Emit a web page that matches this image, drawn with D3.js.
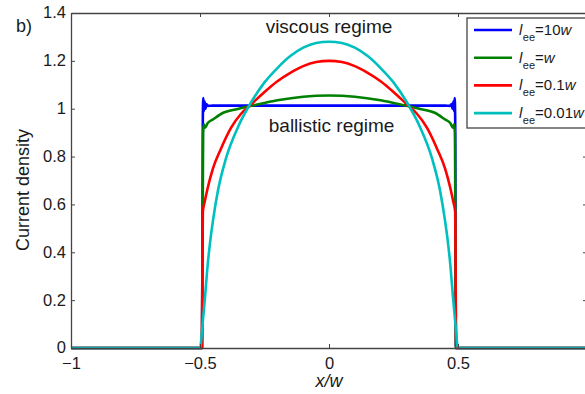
<!DOCTYPE html>
<html>
<head>
<meta charset="utf-8">
<script src="https://cdn.jsdelivr.net/npm/d3@7"></script>
<style>
  html, body { margin: 0; padding: 0; background: #fff; }
  svg { display: block; font-family: "Liberation Sans", Arial, Helvetica, sans-serif; }
</style>
</head>
<body>
<svg id="chart" width="585" height="394"></svg>
<script>
// Current density profiles across the channel for several e-e scattering lengths
const xTicks = [-1, -0.5, 0, 0.5, 1];
const xTickLabels = ["\u22121", "\u22120.5", "0", "0.5", ""];
const yTicks = [0, 0.2, 0.4, 0.6, 0.8, 1, 1.2, 1.4];
const yTickLabels = ["0", "0.2", "0.4", "0.6", "0.8", "1", "1.2", "1.4"];

const seriesNames = ["10", "", "0.1", "0.01"];
const seriesColors = ["#0000ff", "#008000", "#ff0000", "#00bfbf"];

// l_ee = 10w (ballistic, flat with edge ringing)
const x10w = [-1, -0.492, -0.489, -0.487, -0.485, -0.482, -0.479, -0.475, -0.47, -0.45, -0.3, 0, 0.3, 0.45, 0.47, 0.475, 0.479, 0.482, 0.485, 0.487, 0.489, 0.492, 1];
const y10w = [0, 0, 0.97, 1.045, 0.99, 1.03, 1.0, 1.02, 1.012, 1.013, 1.013, 1.013, 1.013, 1.013, 1.012, 1.02, 1.0, 1.03, 0.99, 1.045, 0.97, 0, 0];

// l_ee = w
const xW = [-1, -0.492, -0.488, -0.485, -0.481, -0.47, -0.45, -0.41, -0.35, -0.3, -0.2, -0.1, 0, 0.1, 0.2, 0.3, 0.35, 0.41, 0.45, 0.47, 0.481, 0.485, 0.488, 0.492, 1];
const yW = [0, 0, 0.9, 0.935, 0.92, 0.94, 0.955, 0.983, 1.0, 1.012, 1.035, 1.05, 1.055, 1.05, 1.035, 1.012, 1.0, 0.983, 0.955, 0.94, 0.92, 0.935, 0.9, 0, 0];

// l_ee = 0.1w
const x01w = [-1, -0.493, -0.489, -0.482, -0.47, -0.45, -0.42, -0.38, -0.34, -0.3, -0.25, -0.2, -0.15, -0.1, -0.05, 0, 0.05, 0.1, 0.15, 0.2, 0.25, 0.3, 0.34, 0.38, 0.42, 0.45, 0.47, 0.482, 0.489, 0.493, 1];
const y01w = [0, 0, 0.57, 0.61, 0.67, 0.75, 0.83, 0.92, 0.98, 1.02, 1.07, 1.115, 1.15, 1.178, 1.195, 1.2, 1.195, 1.178, 1.15, 1.115, 1.07, 1.02, 0.98, 0.92, 0.83, 0.75, 0.67, 0.61, 0.57, 0, 0];

// l_ee = 0.01w (viscous, Poiseuille-like)
const x001w = [-1, -0.5, -0.49, -0.48, -0.47, -0.46, -0.45, -0.43, -0.4, -0.35, -0.3, -0.25, -0.2, -0.15, -0.1, -0.05, 0, 0.05, 0.1, 0.15, 0.2, 0.25, 0.3, 0.35, 0.4, 0.43, 0.45, 0.46, 0.47, 0.48, 0.49, 0.5, 1];
const y001w = [0, 0, 0.1, 0.22, 0.35, 0.45, 0.53, 0.66, 0.79, 0.93, 1.03, 1.11, 1.17, 1.22, 1.255, 1.275, 1.28, 1.275, 1.255, 1.22, 1.17, 1.11, 1.03, 0.93, 0.79, 0.66, 0.53, 0.45, 0.35, 0.22, 0.1, 0, 0];

const seriesX = [x10w, xW, x01w, x001w];
const seriesY = [y10w, yW, y01w, y001w];

const margin = { left: 71, top: 13, right: 587, bottom: 348 };
const svg = d3.select("#chart");

const x = d3.scaleLinear().domain([-1, 1]).range([margin.left, margin.right]);
const y = d3.scaleLinear().domain([0, 1.4]).range([margin.bottom, margin.top]);

const axisColor = "#444";
const textColor = "#1a1a1a";
const tickLen = 4;

// curves
const line = d3.line().x(d => x(d[0])).y(d => y(d[1])).curve(d3.curveMonotoneX);
const curves = svg.append("g");
seriesX.forEach((xs, i) => {
  const pts = xs.map((v, j) => [v, seriesY[i][j]]);
  curves.append("path")
    .datum(pts)
    .attr("d", line)
    .attr("fill", "none")
    .attr("stroke", seriesColors[i])
    .attr("stroke-width", 2.6)
    .attr("stroke-linejoin", "round");
});

// axes (inward ticks, boxed)
const fontSize = 16.5;
const bottomAxis = d3.axisBottom(x).tickValues(xTicks).tickSizeInner(-tickLen).tickSizeOuter(0)
  .tickFormat((d, i) => xTickLabels[i]);
const leftAxis = d3.axisLeft(y).tickValues(yTicks).tickSizeInner(-tickLen).tickSizeOuter(0)
  .tickFormat((d, i) => yTickLabels[i]);
const topAxis = d3.axisTop(x).tickValues(xTicks).tickSizeInner(-tickLen).tickSizeOuter(0).tickFormat("");
const rightAxis = d3.axisRight(y).tickValues(yTicks).tickSizeInner(-tickLen).tickSizeOuter(0).tickFormat("");

function styleAxis(g) {
  g.select(".domain").attr("stroke", axisColor).attr("stroke-width", 1.3);
  g.selectAll(".tick line").attr("stroke", axisColor).attr("stroke-width", 1);
  g.selectAll(".tick text").attr("fill", textColor).attr("font-size", fontSize)
    .attr("font-family", "Liberation Sans, Arial, sans-serif");
}

svg.append("g").attr("transform", `translate(0,${margin.bottom})`).call(bottomAxis).call(styleAxis)
  .selectAll(".tick text").attr("dy", 0).attr("y", 21);
svg.append("g").attr("transform", `translate(${margin.left},0)`).call(leftAxis).call(styleAxis)
  .selectAll(".tick text").attr("x", -5).attr("dy", "0.3em");
svg.append("g").attr("transform", `translate(0,${margin.top})`).call(topAxis).call(styleAxis);
svg.append("g").attr("transform", `translate(${margin.right},0)`).call(rightAxis).call(styleAxis);

// axis titles
svg.append("text")
  .attr("transform", `translate(29,190) rotate(-90)`)
  .attr("text-anchor", "middle")
  .attr("font-size", 18).attr("fill", textColor)
  .text("Current density");

svg.append("text")
  .attr("x", x(0)).attr("y", 387)
  .attr("text-anchor", "middle")
  .attr("font-size", 18).attr("font-style", "italic").attr("fill", textColor)
  .text("x/w");

svg.append("text")
  .attr("x", 16).attr("y", 32)
  .attr("font-size", 18).attr("fill", textColor)
  .text("b)");

// regime annotations
svg.append("text")
  .attr("x", x(0)).attr("y", 33)
  .attr("text-anchor", "middle")
  .attr("font-size", 19).attr("fill", textColor)
  .text("viscous regime");

svg.append("text")
  .attr("x", x(0.01)).attr("y", 132)
  .attr("text-anchor", "middle")
  .attr("font-size", 19).attr("fill", textColor)
  .text("ballistic regime");

// legend
const legend = svg.append("g");
legend.append("rect")
  .attr("x", 467).attr("y", 18).attr("width", 130).attr("height", 110)
  .attr("fill", "#fff").attr("stroke", axisColor).attr("stroke-width", 1.3);

seriesNames.forEach((name, i) => {
  const ly = 30 + i * 27.7;
  legend.append("line")
    .attr("x1", 474).attr("x2", 512).attr("y1", ly).attr("y2", ly)
    .attr("stroke", seriesColors[i]).attr("stroke-width", 2.6);
  const t = legend.append("text")
    .attr("x", 519).attr("y", ly + 5)
    .attr("font-size", 15).attr("fill", textColor);
  t.append("tspan").attr("font-style", "italic").text("l");
  t.append("tspan").attr("font-size", 11).attr("dx", 0.5).attr("dy", 6).text("ee");
  t.append("tspan").attr("dy", -6).text("=" + name);
  t.append("tspan").attr("font-style", "italic").text("w");
});
</script>
</body>
</html>
